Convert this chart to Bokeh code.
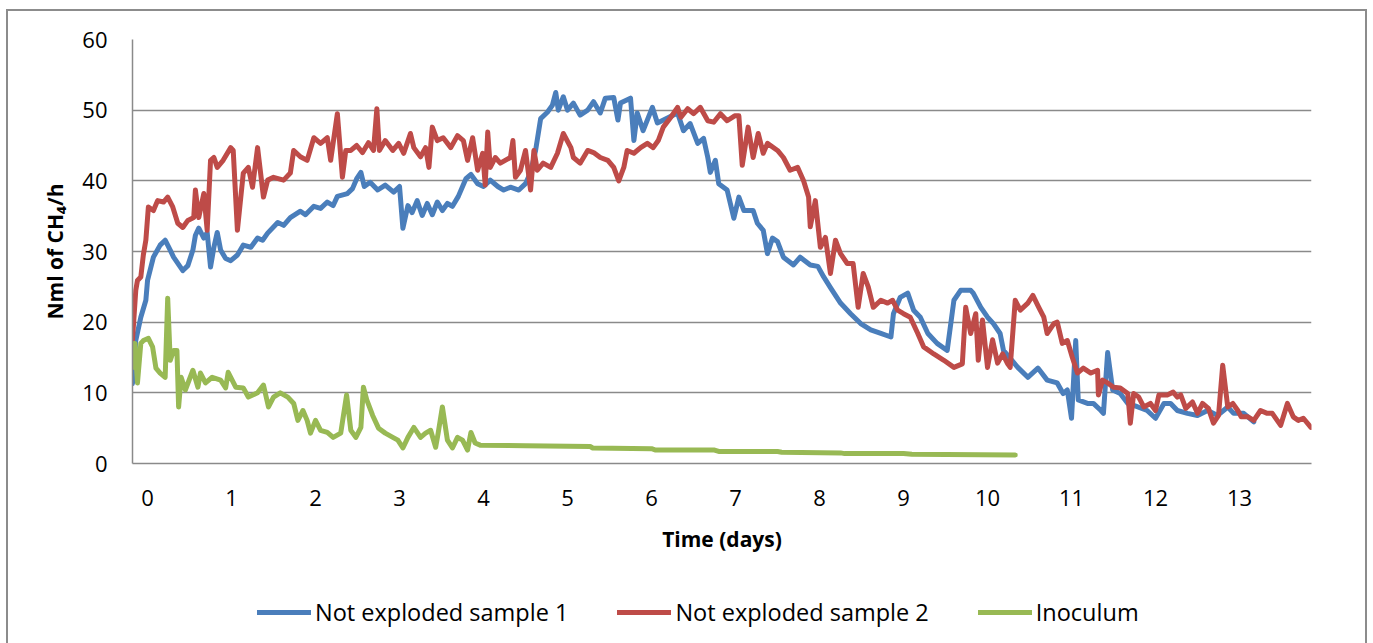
from bokeh.embed import file_html
from bokeh.layouts import column
from bokeh.models import FixedTicker, Legend, LegendItem, Range1d
from bokeh.plotting import figure
from bokeh.resources import INLINE

# ---- methane production rate, Nml CH4 per hour, against time in days ----
days_s1 = [-0.18, -0.14, -0.08, -0.02, 0.00, 0.07, 0.15, 0.21, 0.27, 0.31, 0.42, 0.48,
           0.54, 0.57, 0.61, 0.67, 0.71, 0.75, 0.79, 0.83, 0.87, 0.93, 0.99, 1.07,
           1.14, 1.23, 1.31, 1.37, 1.43, 1.55, 1.62, 1.70, 1.82, 1.88, 1.98, 2.06,
           2.14, 2.21, 2.26, 2.38, 2.44, 2.49, 2.54, 2.58, 2.65, 2.74, 2.83, 2.93,
           3.00, 3.04, 3.10, 3.15, 3.21, 3.27, 3.33, 3.39, 3.45, 3.51, 3.57, 3.63,
           3.70, 3.79, 3.85, 3.93, 4.00, 4.08, 4.17, 4.24, 4.32, 4.42, 4.50, 4.56,
           4.62, 4.68, 4.76, 4.82, 4.86, 4.89, 4.95, 5.00, 5.07, 5.15, 5.24, 5.31,
           5.39, 5.45, 5.55, 5.60, 5.63, 5.75, 5.79, 5.83, 5.90, 6.01, 6.07, 6.19,
           6.31, 6.38, 6.46, 6.55, 6.62, 6.67, 6.70, 6.76, 6.80, 6.90, 6.98, 7.04,
           7.10, 7.21, 7.26, 7.33, 7.38, 7.44, 7.50, 7.57, 7.69, 7.77, 7.89, 7.98,
           8.05, 8.13, 8.25, 8.37, 8.49, 8.61, 8.73, 8.85, 8.88, 8.96, 9.05, 9.12,
           9.20, 9.29, 9.40, 9.52, 9.60, 9.68, 9.80, 9.83, 9.92, 10.00, 10.07, 10.15,
           10.19, 10.36, 10.48, 10.60, 10.71, 10.83, 10.90, 10.95, 11.00, 11.05, 11.08, 11.19,
           11.26, 11.35, 11.38, 11.43, 11.49, 11.58, 11.67, 11.79, 11.90, 12.00, 12.10, 12.18,
           12.26, 12.38, 12.50, 12.62, 12.74, 12.86, 12.93, 13.05, 13.17]
nml_s1 = [11.3, 17.4, 20.7, 23.1, 25.9, 29.2, 30.9, 31.6, 30.2, 29.2, 27.3, 28.0,
          30.2, 32.3, 33.3, 31.9, 32.7, 27.8, 30.6, 32.7, 30.2, 29.0, 28.7, 29.5,
          30.9, 30.6, 31.9, 31.6, 32.6, 34.1, 33.7, 34.8, 35.7, 35.2, 36.4, 36.1,
          37.0, 36.5, 37.8, 38.2, 38.9, 40.3, 41.2, 39.2, 39.8, 38.7, 39.4, 38.4,
          39.2, 33.3, 36.5, 35.5, 37.2, 35.1, 36.8, 35.2, 37.0, 35.8, 36.8, 36.4,
          37.8, 40.3, 40.9, 39.6, 39.2, 40.1, 39.2, 38.7, 39.1, 38.7, 39.6, 41.2,
          44.3, 48.8, 49.7, 50.7, 52.5, 50.0, 51.9, 50.0, 51.0, 49.3, 50.0, 51.2,
          49.6, 51.7, 51.8, 48.6, 51.0, 51.7, 45.7, 49.6, 47.1, 50.4, 48.2, 48.9,
          49.6, 47.1, 48.1, 45.3, 46.0, 43.3, 41.2, 42.9, 39.6, 38.7, 34.7, 37.7,
          35.8, 35.8, 34.0, 33.0, 29.7, 31.9, 31.4, 29.2, 28.1, 29.2, 28.1, 27.9,
          26.4, 24.9, 22.7, 21.2, 19.8, 18.9, 18.4, 17.9, 21.2, 23.5, 24.1, 21.7,
          20.7, 18.4, 17.0, 16.0, 23.1, 24.5, 24.5, 24.1, 22.1, 20.7, 19.8, 18.4,
          16.0, 13.6, 12.2, 13.5, 11.8, 11.4, 9.9, 10.4, 6.4, 17.4, 9.0, 8.5,
          8.5, 7.5, 7.1, 15.7, 10.4, 9.9, 8.5, 8.0, 7.5, 6.4, 8.5, 8.5,
          7.5, 7.1, 6.8, 7.5, 6.8, 8.0, 7.1, 7.1, 5.9]

days_s2 = [-0.18, -0.14, -0.12, -0.08, -0.05, -0.02, 0.01, 0.07, 0.12, 0.19, 0.24, 0.30,
           0.36, 0.42, 0.48, 0.55, 0.57, 0.61, 0.67, 0.71, 0.75, 0.79, 0.83, 0.90,
           0.99, 1.02, 1.07, 1.14, 1.20, 1.25, 1.31, 1.38, 1.43, 1.50, 1.62, 1.70,
           1.74, 1.82, 1.90, 1.98, 2.06, 2.14, 2.18, 2.26, 2.32, 2.36, 2.42, 2.49,
           2.56, 2.63, 2.69, 2.73, 2.76, 2.83, 2.92, 2.99, 3.05, 3.13, 3.17, 3.25,
           3.31, 3.35, 3.39, 3.45, 3.52, 3.61, 3.69, 3.76, 3.81, 3.87, 3.93, 3.99,
           4.02, 4.05, 4.08, 4.14, 4.20, 4.32, 4.35, 4.38, 4.44, 4.50, 4.56, 4.60,
           4.64, 4.71, 4.80, 4.88, 4.95, 5.04, 5.07, 5.15, 5.24, 5.31, 5.39, 5.48,
           5.55, 5.61, 5.67, 5.71, 5.79, 5.87, 5.95, 6.02, 6.08, 6.14, 6.23, 6.31,
           6.35, 6.43, 6.50, 6.58, 6.67, 6.74, 6.82, 6.90, 6.99, 7.04, 7.08, 7.15,
           7.21, 7.27, 7.33, 7.38, 7.50, 7.57, 7.65, 7.74, 7.81, 7.87, 7.89, 7.95,
           8.01, 8.07, 8.13, 8.19, 8.25, 8.33, 8.40, 8.46, 8.52, 8.58, 8.64, 8.73,
           8.81, 8.87, 8.93, 9.00, 9.08, 9.17, 9.24, 9.36, 9.48, 9.60, 9.70, 9.74,
           9.80, 9.86, 9.89, 9.94, 10.00, 10.06, 10.12, 10.18, 10.24, 10.27, 10.33, 10.39,
           10.48, 10.54, 10.61, 10.67, 10.71, 10.79, 10.83, 10.89, 10.95, 11.01, 11.07, 11.14,
           11.23, 11.31, 11.32, 11.37, 11.43, 11.50, 11.58, 11.67, 11.70, 11.74, 11.80, 11.86,
           11.94, 12.00, 12.04, 12.14, 12.21, 12.26, 12.30, 12.36, 12.44, 12.50, 12.56, 12.63,
           12.69, 12.75, 12.80, 12.86, 12.92, 12.98, 13.02, 13.10, 13.17, 13.25, 13.33, 13.39,
           13.49, 13.57, 13.64, 13.70, 13.76, 13.85]
nml_s2 = [17.4, 24.5, 25.9, 26.4, 29.5, 31.6, 36.3, 35.8, 37.2, 37.0, 37.7, 36.3,
          34.0, 33.4, 34.4, 34.8, 38.7, 34.8, 38.2, 33.0, 42.9, 43.3, 41.9, 42.9,
          44.7, 44.3, 33.0, 41.1, 41.9, 39.1, 44.7, 37.7, 40.1, 40.5, 40.1, 41.1,
          44.3, 43.4, 42.9, 46.1, 45.3, 46.1, 42.9, 49.5, 40.5, 44.3, 44.3, 45.0,
          44.0, 45.4, 44.3, 50.2, 44.3, 45.7, 44.3, 45.3, 43.9, 46.7, 44.7, 43.4,
          44.7, 41.9, 47.6, 45.7, 46.1, 44.7, 46.4, 45.7, 42.9, 46.1, 41.5, 43.9,
          39.4, 46.9, 41.9, 43.3, 42.5, 43.3, 45.7, 40.5, 41.5, 44.3, 38.7, 44.3,
          41.5, 42.5, 41.9, 43.9, 46.7, 44.7, 43.3, 42.5, 44.3, 44.0, 43.3, 42.9,
          41.9, 40.0, 41.9, 44.3, 43.9, 44.7, 45.3, 44.7, 45.7, 47.6, 49.0, 50.4,
          49.0, 50.2, 49.5, 50.4, 48.5, 48.3, 49.5, 48.5, 49.2, 49.2, 42.2, 47.6,
          43.3, 46.7, 43.9, 45.3, 44.3, 43.3, 41.5, 41.9, 40.0, 37.7, 33.5, 37.2,
          30.6, 32.0, 26.9, 31.6, 29.7, 28.3, 28.3, 22.1, 26.9, 25.0, 22.1, 23.1,
          22.7, 23.1, 21.7, 21.2, 20.7, 18.4, 16.5, 15.5, 14.6, 13.6, 14.1, 22.1,
          18.4, 21.2, 14.6, 20.3, 13.6, 17.5, 14.2, 15.5, 14.1, 13.6, 23.1, 21.7,
          22.7, 23.8, 22.1, 20.7, 18.4, 19.8, 20.0, 17.0, 17.4, 15.0, 12.8, 13.5,
          12.8, 13.2, 9.7, 11.8, 11.4, 10.8, 10.7, 9.9, 5.7, 9.9, 9.4, 8.0,
          8.5, 7.5, 9.7, 9.7, 10.1, 9.4, 9.7, 7.8, 8.7, 7.1, 8.5, 7.8,
          5.7, 6.8, 13.9, 8.0, 8.5, 7.5, 6.6, 6.6, 6.1, 7.5, 7.1, 7.1,
          5.4, 8.5, 6.6, 6.1, 6.4, 5.1]

days_inoc = [-0.18, -0.15, -0.12, -0.08, -0.05, 0.01, 0.06, 0.10, 0.15, 0.21, 0.24, 0.27,
             0.31, 0.35, 0.37, 0.40, 0.45, 0.54, 0.60, 0.63, 0.69, 0.77, 0.87, 0.93,
             0.96, 1.05, 1.14, 1.20, 1.31, 1.38, 1.44, 1.50, 1.58, 1.67, 1.74, 1.79,
             1.85, 1.90, 1.94, 2.00, 2.06, 2.14, 2.21, 2.30, 2.37, 2.42, 2.48, 2.54,
             2.57, 2.61, 2.68, 2.75, 2.83, 2.92, 2.98, 3.04, 3.10, 3.17, 3.25, 3.31,
             3.37, 3.43, 3.46, 3.51, 3.57, 3.63, 3.69, 3.75, 3.81, 3.85, 3.90, 3.96,
             4.50, 5.27, 5.30, 6.00, 6.05, 6.75, 6.80, 7.50, 7.55, 8.25, 8.30, 9.00,
             9.10, 10.33]
nml_inoc = [13.6, 17.0, 11.4, 17.0, 17.4, 17.7, 16.5, 13.5, 12.8, 12.2, 23.4, 14.6,
            16.0, 16.0, 8.0, 12.2, 10.4, 13.2, 10.8, 12.8, 11.4, 12.2, 11.8, 10.7,
            12.9, 10.8, 10.7, 9.4, 10.0, 11.1, 8.0, 9.4, 10.0, 9.4, 8.5, 6.1,
            7.5, 6.1, 4.3, 6.1, 4.7, 4.4, 3.7, 4.3, 9.7, 4.7, 3.7, 5.1,
            10.8, 9.0, 6.8, 5.0, 4.3, 3.7, 3.3, 2.2, 3.7, 5.1, 3.7, 4.3,
            4.7, 2.3, 4.3, 8.0, 3.3, 2.2, 3.7, 3.3, 1.9, 4.4, 2.9, 2.6,
            2.5, 2.4, 2.2, 2.1, 1.9, 1.9, 1.7, 1.7, 1.6, 1.5, 1.4, 1.4,
            1.3, 1.2]

series_names = ["Not exploded sample 1", "Not exploded sample 2", "Inoculum"]
series_colors = ["#4A7EBB", "#BE4B48", "#98B954"]
day_ticks = list(range(0, 14))
rate_ticks = list(range(0, 70, 10))
series_days = [days_s1, days_s2, days_inoc]
series_nml = [nml_s1, nml_s2, nml_inoc]

FONT = "Open Sans"
GRID = "#8a8a8a"

# ---- main chart ----
p = figure(width=1373, height=583, output_backend="svg", toolbar_location=None,
           x_range=Range1d(-0.179, 13.857), y_range=Range1d(0, 60),
           min_border_left=132, min_border_right=62, min_border_top=39,
           min_border_bottom=120)
p.outline_line_color = None
p.background_fill_color = "white"
p.border_fill_color = None

p.xaxis.ticker = FixedTicker(ticks=day_ticks)
p.yaxis.ticker = FixedTicker(ticks=rate_ticks)
for ax in (p.xaxis, p.yaxis):
    ax.axis_line_color = GRID
    ax.axis_line_width = 1.5
    ax.major_tick_line_color = None
    ax.minor_tick_line_color = None
    ax.major_tick_out = 0
    ax.major_tick_in = 0
    ax.major_label_text_font = FONT
    ax.major_label_text_font_size = "22px"
    ax.major_label_text_color = "black"
    ax.axis_label_text_font = FONT
    ax.axis_label_text_font_style = "bold"
    ax.axis_label_text_font_size = "21px"
    ax.axis_label_text_color = "black"
p.xaxis.major_label_standoff = 26
p.yaxis.major_label_standoff = 25
p.xaxis.axis_label = "Time (days)"
p.yaxis.axis_label = "Nml of CH\u2084/h"
p.xaxis.axis_label_standoff = 16
p.yaxis.axis_label_standoff = 10
p.xgrid.grid_line_color = None
p.ygrid.grid_line_color = GRID
p.ygrid.grid_line_width = 1.5

# series, drawn in order so that later ones lie on top
for xs, ys, col in zip(series_days, series_nml, series_colors):
    p.line(xs, ys, line_color=col, line_width=5, line_join="round", line_cap="round")

# ---- legend strip underneath the chart ----
# its ranges lie outside the data, so only the legend keys show
key = figure(width=1373, height=60, output_backend="svg", toolbar_location=None,
             x_range=Range1d(-10, -9), y_range=Range1d(-10, -9), min_border=0)
key.axis.visible = False
key.grid.visible = False
key.outline_line_color = None
key.background_fill_color = None
key.border_fill_color = None
key_lines = [key.line(xs, ys, line_color=col, line_width=5, line_cap="round")
             for xs, ys, col in zip(series_days, series_nml, series_colors)]
key.add_layout(Legend(items=[LegendItem(label=n, renderers=[r])
                             for n, r in zip(series_names, key_lines)],
                      location=(125, 15), orientation="horizontal",
                      glyph_width=54, glyph_height=30, label_height=30,
                      label_standoff=4, spacing=49, padding=0, margin=0,
                      border_line_color=None, background_fill_alpha=0,
                      label_text_font=FONT, label_text_font_size="23.5px",
                      label_text_color="black"))

# chart-area frame: left, top and right edges
edge = "linear-gradient(#8c8c8c, #8c8c8c)"
page = column(p, key, spacing=0, styles={
    "background": f"{edge} 6px 9px / 2px 640px no-repeat, "
                  f"{edge} 6px 9px / 1361px 2px no-repeat, "
                  f"{edge} 1365px 9px / 2px 640px no-repeat, white"})

open("out.html", "w").write(file_html(page, INLINE))
